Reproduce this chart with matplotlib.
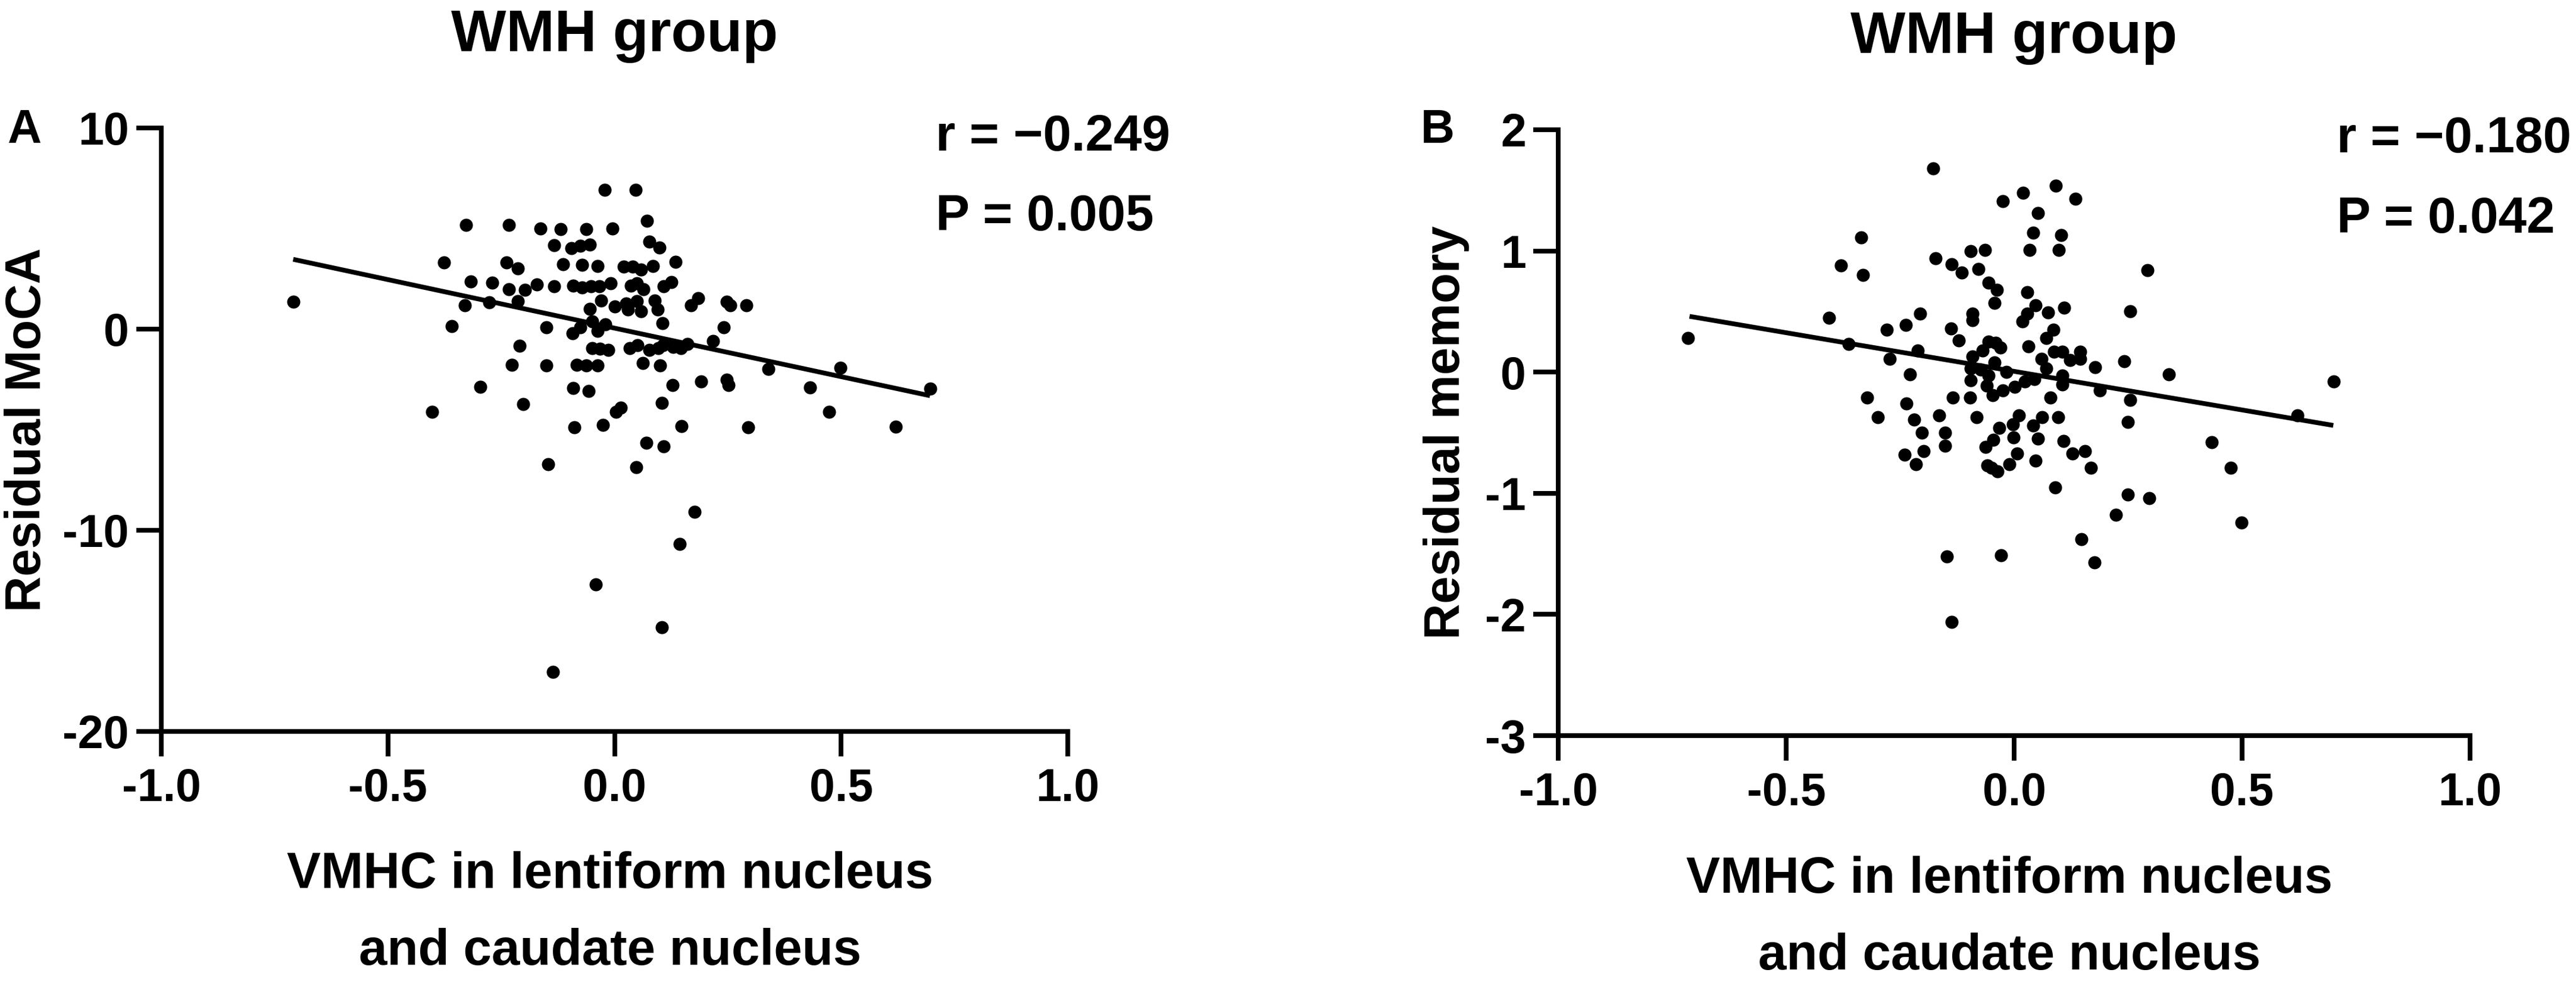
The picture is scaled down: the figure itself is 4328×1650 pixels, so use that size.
import matplotlib
matplotlib.use("Agg")
import matplotlib.pyplot as plt
import numpy as np

plt.rcParams['font.family'] = ['Liberation Sans', 'DejaVu Sans']
plt.rcParams['font.weight'] = 'bold'
plt.rcParams['axes.unicode_minus'] = False

# ---------------- data ----------------
title_text = "WMH group"
xlabel_text = "VMHC in lentiform nucleus\nand caudate nucleus"
x_ticks = [-1.0, -0.5, 0.0, 0.5, 1.0]

# Panel A : Residual MoCA
a_ylabel = "Residual MoCA"
a_yticks = [-20, -10, 0, 10]
a_r_text = "r = \u22120.249"
a_p_text = "P = 0.005"
a_x = [-0.022, 0.046, -0.709, -0.376, -0.328, -0.317, -0.330, -0.359, -0.296, -0.402,
       -0.233, -0.164, -0.119, -0.063, -0.004, 0.071, -0.133, -0.095, -0.076, -0.054,
       0.077, 0.099, -0.238, -0.214, -0.114, -0.071, -0.038, 0.021, 0.040, 0.059,
       0.085, 0.134, -0.270, -0.233, -0.198, -0.172, -0.133, -0.091, -0.071, -0.052,
       -0.034, -0.009, 0.036, 0.049, 0.064, 0.108, 0.125, -0.277, -0.214, -0.055,
       -0.049, -0.030, 0.001, 0.025, 0.029, 0.049, 0.058, 0.088, 0.095, 0.169,
       0.185, -0.150, -0.093, -0.075, -0.038, -0.021, 0.106, -0.209, -0.049, -0.032,
       -0.014, 0.034, 0.051, 0.077, 0.096, 0.107, 0.130, 0.147, 0.161, 0.217,
       -0.227, -0.150, -0.084, -0.063, -0.037, 0.062, 0.100, 0.248, 0.255, 0.291,
       0.241, 0.339, 0.499, 0.191, 0.248, 0.252, 0.432, 0.696, 0.474, 0.620,
       0.295, 0.128, -0.091, -0.057, -0.201, 0.003, 0.014, 0.104, -0.089, -0.026,
       0.148, 0.070, 0.108, -0.146, 0.048, 0.176, 0.144, -0.042, 0.104, -0.136]
a_y = [6.93, 6.93, 1.35, 3.31, 5.19, 2.38, 1.19, 0.14, -2.87, -4.12,
       5.18, 5.00, 4.98, 4.96, 5.00, 5.37, 4.17, 4.01, 4.14, 4.21,
       4.34, 4.06, 3.32, 3.01, 3.22, 3.19, 3.13, 3.11, 3.11, 2.96,
       3.13, 3.35, 2.30, 1.97, 1.94, 2.22, 2.12, 2.17, 2.07, 2.12,
       2.12, 2.27, 2.17, 2.27, 1.97, 2.12, 2.33, 1.33, 1.38, 1.00,
       0.39, 1.43, 1.13, 1.28, 0.99, 1.38, 0.89, 1.43, 0.99, 1.19,
       1.53, 0.10, -0.20, 0.10, -0.10, 0.25, 0.30, -0.84, -0.94, -0.99,
       -1.04, -0.96, -0.79, -1.04, -0.94, -0.79, -0.89, -0.94, -0.74, -0.59,
       -1.78, -1.81, -1.78, -1.80, -1.80, -1.70, -1.81, 1.35, 1.19, 1.19,
       0.10, -1.98, -1.92, -2.61, -2.51, -2.77, -2.89, -2.97, -4.12, -4.85,
       -4.87, -2.77, -2.93, -3.07, -3.72, -4.12, -3.92, -3.66, -4.89, -4.77,
       -4.83, -5.64, -5.84, -6.73, -6.85, -9.07, -10.69, -12.69, -14.81, -17.05]
a_fit_x = [-0.709, 0.696]
a_fit_y = [3.47, -3.31]

# Panel B : Residual memory
b_ylabel = "Residual memory"
b_yticks = [-3, -2, -1, 0, 1, 2]
b_r_text = "r = \u22120.180"
b_p_text = "P = 0.042"
b_x = [-0.177, 0.091, 0.020, 0.135, -0.025, 0.052, 0.042, 0.103, -0.335, 0.034,
       0.098, -0.095, -0.064, -0.172, -0.137, -0.380, -0.078, -0.115, -0.331, 0.292,
       0.254, -0.206, -0.406, -0.238, -0.280, -0.716, -0.363, -0.212, -0.273, 0.241,
       0.339, 0.701, -0.229, -0.322, 0.254, -0.236, -0.299, 0.249, 0.622, -0.219,
       -0.203, -0.152, -0.033, -0.003, 0.042, -0.001, 0.052, -0.152, -0.046, -0.063,
       0.109, 0.434, -0.199, -0.240, 0.156, 0.128, 0.007, -0.216, 0.047, -0.010,
       -0.059, -0.049, -0.036, 0.169, 0.475, 0.090, 0.249, 0.296, 0.223, 0.499,
       0.147, 0.176, -0.147, -0.029, -0.137,
       -0.056, -0.038, -0.043, 0.029, -0.091, -0.091, 0.047, 0.029, 0.018, 0.075,
       0.110, -0.139, -0.121, 0.086, 0.071, 0.031, -0.056, -0.040, -0.030, -0.069,
       -0.091, -0.043, -0.095, -0.073, -0.056, -0.095, -0.060, -0.047, -0.025, -0.017,
       0.001, 0.023, 0.045, 0.060, 0.071, 0.088, 0.106, 0.123, 0.145, 0.145,
       0.178, 0.106, 0.106, 0.188, -0.134, -0.097, 0.079, -0.165, -0.082, 0.010,
       0.062, 0.097]
b_y = [1.68, 1.54, 1.48, 1.43, 1.41, 1.31, 1.15, 1.13, 1.11, 1.01,
       1.01, 1.00, 1.01, 0.94, 0.89, 0.88, 0.85, 0.82, 0.80, 0.84,
       0.50, 0.48, 0.45, 0.39, 0.35, 0.28, 0.23, 0.18, 0.11, 0.09,
       -0.02, -0.08, -0.02, -0.21, -0.23, -0.26, -0.37, -0.41, -0.36, -0.39,
       -0.50, -0.50, -0.46, -0.43, -0.44, -0.54, -0.55, -0.61, -0.56, -0.62,
       -0.57, -0.58, -0.65, -0.68, -0.65, -0.67, -0.67, -0.76, -0.73, -0.76,
       -0.77, -0.79, -0.82, -0.79, -0.79, -0.95, -1.01, -1.04, -1.18, -1.24,
       -1.38, -1.57, -1.52, -1.51, -2.06,
       0.74, 0.68, 0.57, 0.66, 0.48, 0.43, 0.55, 0.48, 0.42, 0.49,
       0.53, 0.36, 0.26, 0.35, 0.28, 0.21, 0.25, 0.24, 0.20, 0.18,
       0.13, 0.08, 0.03, 0.02, -0.03, -0.07, -0.11, -0.19, -0.15, 0.00,
       -0.12, -0.08, -0.06, 0.11, 0.03, 0.17, 0.17, 0.10, 0.17, 0.11,
       0.04, -0.03, -0.10, -0.15, -0.21, -0.21, -0.21, -0.36, -0.37, -0.36,
       -0.37, -0.37]
b_fit_x = [-0.712, 0.700]
b_fit_y = [0.46, -0.44]

# ---------------- figure ----------------
W, H = 4328, 1650
DPI = 300
fig = plt.figure(figsize=(W / DPI, H / DPI), dpi=DPI)

LW = 1.9
TICK_FS = 18.5
LABEL_FS = 20.5
YLABEL_FS = 20
TITLE_FS = 23.5
STAT_FS = 20.5


def px_rect(l, r, t, b):
    return [l / W, 1 - b / H, (r - l) / W, (b - t) / H]


def make_panel(rect, xs, ys, fx, fy, yticks, ylabel, rtxt, ptxt, ylabel_x, letter, letter_x):
    ax = fig.add_axes(rect)
    ax.scatter(xs, ys, s=28, color='black', linewidths=0, zorder=3, clip_on=False)
    ax.plot(fx, fy, color='black', lw=LW, solid_capstyle='butt', zorder=2)
    ax.set_xlim(-1.0, 1.0)
    ax.set_ylim(min(yticks), max(yticks))
    ax.set_xticks(x_ticks)
    ax.set_xticklabels([f"{v:.1f}" for v in x_ticks])
    ax.set_yticks(yticks)
    ax.set_yticklabels([str(v) for v in yticks])
    for s in ['top', 'right']:
        ax.spines[s].set_visible(False)
    for s in ['left', 'bottom']:
        ax.spines[s].set_linewidth(LW)
        ax.spines[s].set_capstyle('projecting')
    ax.tick_params(axis='both', direction='out', length=10, width=LW,
                   labelsize=TICK_FS, color='black')
    ax.tick_params(axis='x', pad=4.5)
    ax.tick_params(axis='y', pad=3)
    for lab in ax.get_xticklabels() + ax.get_yticklabels():
        lab.set_fontweight('bold')
    ax.set_xlabel(xlabel_text, fontsize=LABEL_FS, fontweight='bold', linespacing=1.8)
    ax.xaxis.set_label_coords(0.495, -0.198)
    ax.set_ylabel(ylabel, fontsize=YLABEL_FS, fontweight='bold')
    ax.yaxis.set_label_coords(ylabel_x, 0.5)
    ax.set_title(title_text, fontsize=TITLE_FS, fontweight='bold', y=1.127, pad=0)
    ax.text(0.854, 0.9625, rtxt, transform=ax.transAxes, fontsize=STAT_FS,
            fontweight='bold', va='baseline', ha='left', clip_on=False)
    ax.text(0.854, 0.830, ptxt, transform=ax.transAxes, fontsize=STAT_FS,
            fontweight='bold', va='baseline', ha='left', clip_on=False)
    fig.text(letter_x / W, 1 - 240 / H, letter, fontsize=19, fontweight='bold',
             va='baseline', ha='left')
    return ax


make_panel(px_rect(271, 1794, 215, 1229), a_x, a_y, a_fit_x, a_fit_y, a_yticks,
           a_ylabel, a_r_text, a_p_text, -0.122, "A", 12)
make_panel(px_rect(2618, 4150, 218, 1236), b_x, b_y, b_fit_x, b_fit_y, b_yticks,
           b_ylabel, b_r_text, b_p_text, -0.097, "B", 2387)

fig.savefig("out.png", dpi=DPI, facecolor='white')
